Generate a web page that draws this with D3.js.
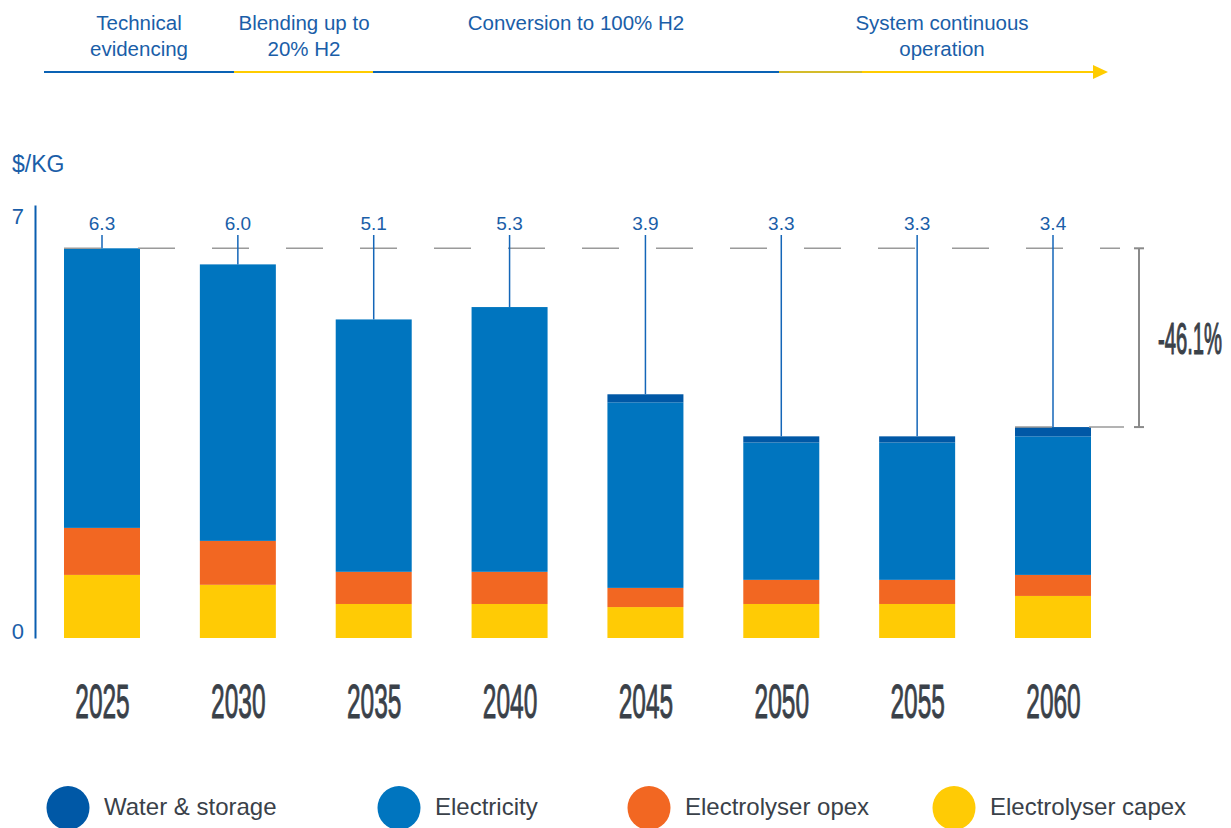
<!DOCTYPE html>
<html><head><meta charset="utf-8">
<script src="https://cdn.jsdelivr.net/npm/d3@7"></script>
<style>html,body{margin:0;padding:0;background:#fff;}svg{display:block;}</style>
</head><body>
<svg id="chart" width="1231" height="828"></svg>
<script>
const years = ["2025","2030","2035","2040","2045","2050","2055","2060"];
const capex = [1.02, 0.86, 0.55, 0.55, 0.50, 0.55, 0.55, 0.68];
const opex = [0.76, 0.71, 0.52, 0.52, 0.31, 0.39, 0.39, 0.34];
const electricity = [4.52, 4.47, 4.08, 4.28, 3.00, 2.22, 2.22, 2.24];
const water = [0, 0, 0, 0, 0.13, 0.10, 0.10, 0.15];
const totalLabels = ["6.3","6.0","5.1","5.3","3.9","3.3","3.3","3.4"];
const yTicks = [0, 7];
const changeLabel = "-46.1%";
const seriesNames = ["Water & storage","Electricity","Electrolyser opex","Electrolyser capex"];
const phases = [["Technical","evidencing"],["Blending up to","20% H2"],["Conversion to 100% H2"],["System continuous","operation"]];

const colors = {"Electrolyser capex":"#ffcb05","Electrolyser opex":"#f26722","Electricity":"#0075bf","Water & storage":"#0058a6"};
const textBlue = "#1a5ea8", dark = "#3a4149";
const FONT = "Liberation Sans, Arial, sans-serif";

const svg = d3.select("#chart");
const x = d3.scalePoint().domain(years).range([102, 1053]);
const y = d3.scaleLinear().domain([0, 7]).range([638, 205]);
const barW = 76;

// timeline
const tl = svg.append("g");
const segs = [[44,234,"#0a62b4"],[234,373,"#ffcc00"],[373,779,"#0a62b4"],[779,862,"#d4bc2a"],[862,1096,"#ffcc00"]];
segs.forEach(s => tl.append("line").attr("x1",s[0]).attr("x2",s[1]).attr("y1",72).attr("y2",72).attr("stroke",s[2]).attr("stroke-width",2));
tl.append("path").attr("d","M1093,65 L1108,72 L1093,79 Z").attr("fill","#ffcc00");
const phaseX = [139, 304, 576, 942];
phases.forEach((p,i) => {
  p.forEach((line,j) => tl.append("text").attr("x",phaseX[i]).attr("y",30+j*26).attr("text-anchor","middle")
    .attr("font-family",FONT).attr("font-size",20.5).attr("fill",textBlue).text(line));
});

// y axis
svg.append("text").attr("x",12).attr("y",172).attr("font-family",FONT).attr("font-size",23).attr("fill",textBlue).text("$/KG");
const yAxis = svg.append("g").attr("transform","translate(35,0)")
  .call(d3.axisLeft(y).tickValues(yTicks).tickSize(0).tickPadding(11).tickFormat(d3.format("d")));
yAxis.select(".domain").attr("stroke","#0a5eb0").attr("stroke-width",2);
yAxis.selectAll("text").attr("font-family",FONT).attr("font-size",22).attr("fill",textBlue)
  .attr("dy", (d)=> d===7 ? "0.86em" : "0em");

// stacked bars
const rows = years.map((yr,i)=>({year:yr,"Electrolyser capex":capex[i],"Electrolyser opex":opex[i],"Electricity":electricity[i],"Water & storage":water[i]}));
const keys = ["Electrolyser capex","Electrolyser opex","Electricity","Water & storage"];
const stack = d3.stack().keys(keys)(rows);
const bars = svg.append("g");
stack.forEach(layer => {
  bars.selectAll(null).data(layer).enter().append("rect")
    .attr("x", d => x(d.data.year) - barW/2)
    .attr("width", barW)
    .attr("y", d => y(d[1]))
    .attr("height", d => Math.max(0, y(d[0]) - y(d[1])))
    .attr("fill", colors[layer.key]);
});
const totals = rows.map(r => keys.reduce((a,k)=>a+r[k],0));

// dashed reference lines
svg.append("line").attr("x1", x(years[0]) - barW/2).attr("x2", 1120).attr("y1", y(totals[0])).attr("y2", y(totals[0]))
  .attr("stroke","#9a9a9a").attr("stroke-width",1.6).attr("stroke-dasharray","37,37");
const last = years.length-1;
svg.append("line").attr("x1", x(years[last]) - barW/2).attr("x2", 1124).attr("y1", y(totals[last])).attr("y2", y(totals[last]))
  .attr("stroke","#9a9a9a").attr("stroke-width",1.6).attr("stroke-dasharray","37,37");

// bracket
const bx = 1139;
const br = svg.append("g").attr("stroke","#8a8a8a").attr("stroke-width",2);
br.append("line").attr("x1",bx).attr("x2",bx).attr("y1",y(totals[0])).attr("y2",y(totals[last]));
br.append("line").attr("x1",bx-5).attr("x2",bx+5).attr("y1",y(totals[0])).attr("y2",y(totals[0]));
br.append("line").attr("x1",bx-5).attr("x2",bx+5).attr("y1",y(totals[last])).attr("y2",y(totals[last]));
svg.append("text").attr("transform",`translate(1190,${(y(totals[0])+y(totals[last]))/2 + 16}) scale(0.46,1)`)
  .attr("text-anchor","middle").attr("font-family",FONT)
  .attr("font-size",44).attr("fill",dark).attr("stroke",dark).attr("stroke-width",1.2).text(changeLabel);

// leader lines + value labels
const lab = svg.append("g");
years.forEach((yr,i) => {
  lab.append("line").attr("x1",x(yr)).attr("x2",x(yr)).attr("y1",235).attr("y2",y(totals[i]))
    .attr("stroke","#1466b8").attr("stroke-width",1.5);
  lab.append("text").attr("x",x(yr)).attr("y",230).attr("text-anchor","middle")
    .attr("font-family",FONT).attr("font-size",19).attr("fill",textBlue).text(totalLabels[i]);
});

// year labels
const xAxis = svg.append("g").attr("transform","translate(0,638)")
  .call(d3.axisBottom(x).tickSize(0).tickPadding(0));
xAxis.select(".domain").remove();
xAxis.selectAll(".tick text").attr("y",0).attr("dy",0)
  .attr("transform","translate(0,80) scale(0.5,1)")
  .attr("font-family",FONT).attr("font-size",49).attr("fill",dark)
  .attr("stroke",dark).attr("stroke-width",1.0)
  .attr("text-anchor","middle");

// legend
const legX = [68, 399, 649, 954];
const leg = svg.append("g");
seriesNames.forEach((n,i) => {
  leg.append("ellipse").attr("cx",legX[i]).attr("cy",808).attr("rx",21.5).attr("ry",22).attr("fill",colors[n]);
  leg.append("text").attr("x",legX[i]+36).attr("y",815).attr("font-family",FONT)
    .attr("font-size",24).attr("fill",dark).text(n);
});
</script>
</body></html>
